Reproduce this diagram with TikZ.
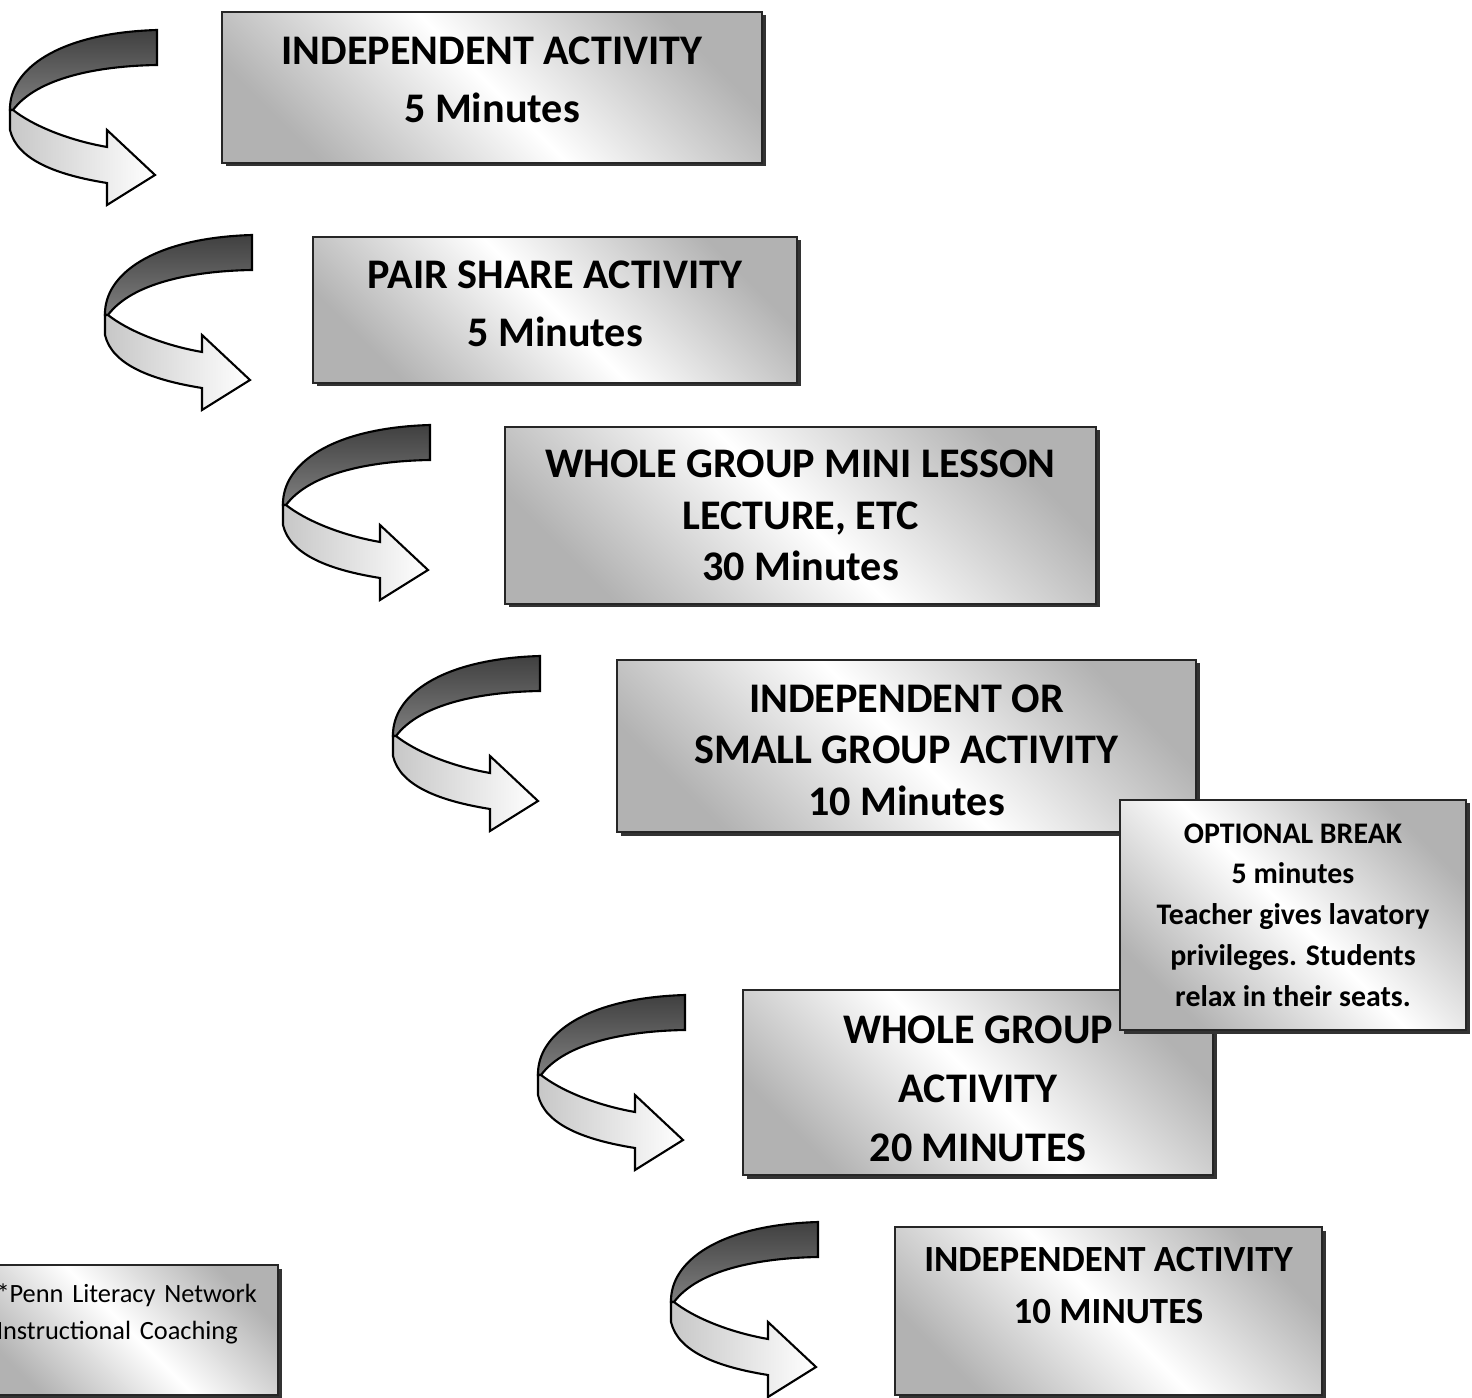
\documentclass[tikz,border=0pt]{standalone}
\usepackage{fontspec}
\setmainfont{Carlito}
\usetikzlibrary{shapes,arrows,shadows}

\begin{document}
\begin{tikzpicture}
		\tikzstyle {stage} = [draw=black!85, line width=0.6pt, top color=black!30, bottom color=black!30, middle color=white, shading angle=-45, align=center, inner sep=0pt, drop shadow={shadow xshift=0.35mm, shadow yshift=-0.35mm, fill=black!80, opacity=1}]
		\tikzstyle {band dark} = [draw=black, line width=0.6pt, top color=black!75, bottom color=black!50]
		\tikzstyle {band light} = [draw=black, line width=0.6pt, left color=black!22, right color=white]

		\useasboundingbox (0,0) rectangle (14.72,-13.98);

		% u-turn arrows
		\foreach \x/\y in {1.57/-0.30, 2.52/-2.35, 4.30/-4.25, 5.40/-6.56, 6.85/-9.95, 8.18/-12.22}
		{
			\begin{scope}[shift={(\x,\y)}, x=0.1mm, y=0.1mm]
				\draw[band dark] (0,0) -- (0,-35) .. controls (-60,-36) and (-120,-48) .. (-144,-80) -- (-147,-80) .. controls (-148,-40) and (-100,-3) .. (0,0) -- cycle;
				\draw[band light] (-147,-80) -- (-147,-100) .. controls (-140,-130) and (-100,-145) .. (-50,-153) -- (-50,-175) -- (-2,-145) -- (-50,-100) -- (-50,-117) .. controls (-90,-110) and (-125,-95) .. (-144,-80) -- cycle;
			\end{scope}
		}

		% stages
		\node[stage, minimum width=5.40cm, minimum height=1.51cm, text depth=0.16cm, font=\bfseries\fontsize{12}{16.5}\selectfont] (indep) at (4.92,-0.875) {INDEPENDENT ACTIVITY\\5 Minutes};
		\node[stage, minimum width=4.84cm, minimum height=1.46cm, text depth=0.12cm, font=\bfseries\fontsize{12}{16.5}\selectfont] (pair) at (5.55,-3.10) {PAIR SHARE ACTIVITY\\5 Minutes};
		\node[stage, minimum width=5.91cm, minimum height=1.77cm, font=\bfseries\fontsize{12}{14.7}\selectfont] (lesson) at (8.005,-5.155) {WHOLE GROUP MINI LESSON\\LECTURE, ETC\\30 Minutes};
		\node[stage, minimum width=5.79cm, minimum height=1.72cm, font=\bfseries\fontsize{12}{14.7}\selectfont] (small) at (9.065,-7.46) {\rule{0pt}{0.36cm}INDEPENDENT OR\\SMALL GROUP ACTIVITY\\10 Minutes};
		\node[stage, minimum width=4.70cm, minimum height=1.85cm, font=\bfseries\fontsize{12}{16.8}\selectfont] (whole) at (9.78,-10.825) {\rule{0pt}{0.40cm}WHOLE GROUP\\ACTIVITY\\20 MINUTES};
		\node[stage, minimum width=3.46cm, minimum height=2.30cm, font=\bfseries\fontsize{8.5}{11.6}\selectfont] (break) at (12.93,-9.15) {OPTIONAL BREAK\\5 minutes\\Teacher gives lavatory\\privileges. Students\\relax in their seats.};
		\node[stage, minimum width=4.27cm, minimum height=1.68cm, font=\bfseries\fontsize{10.5}{14.8}\selectfont] (final) at (11.085,-13.11) {INDEPENDENT ACTIVITY\\10 MINUTES\\\mbox{}};

		% note
		\node[stage, minimum width=2.98cm, minimum height=1.30cm, text width=2.65cm, align=left, font=\fontsize{7.5}{10.5}\selectfont] (penn) at (1.29,-13.30) {*Penn Literacy Network\\Instructional Coaching\\\mbox{}};

	\end{tikzpicture}
\end{document}
